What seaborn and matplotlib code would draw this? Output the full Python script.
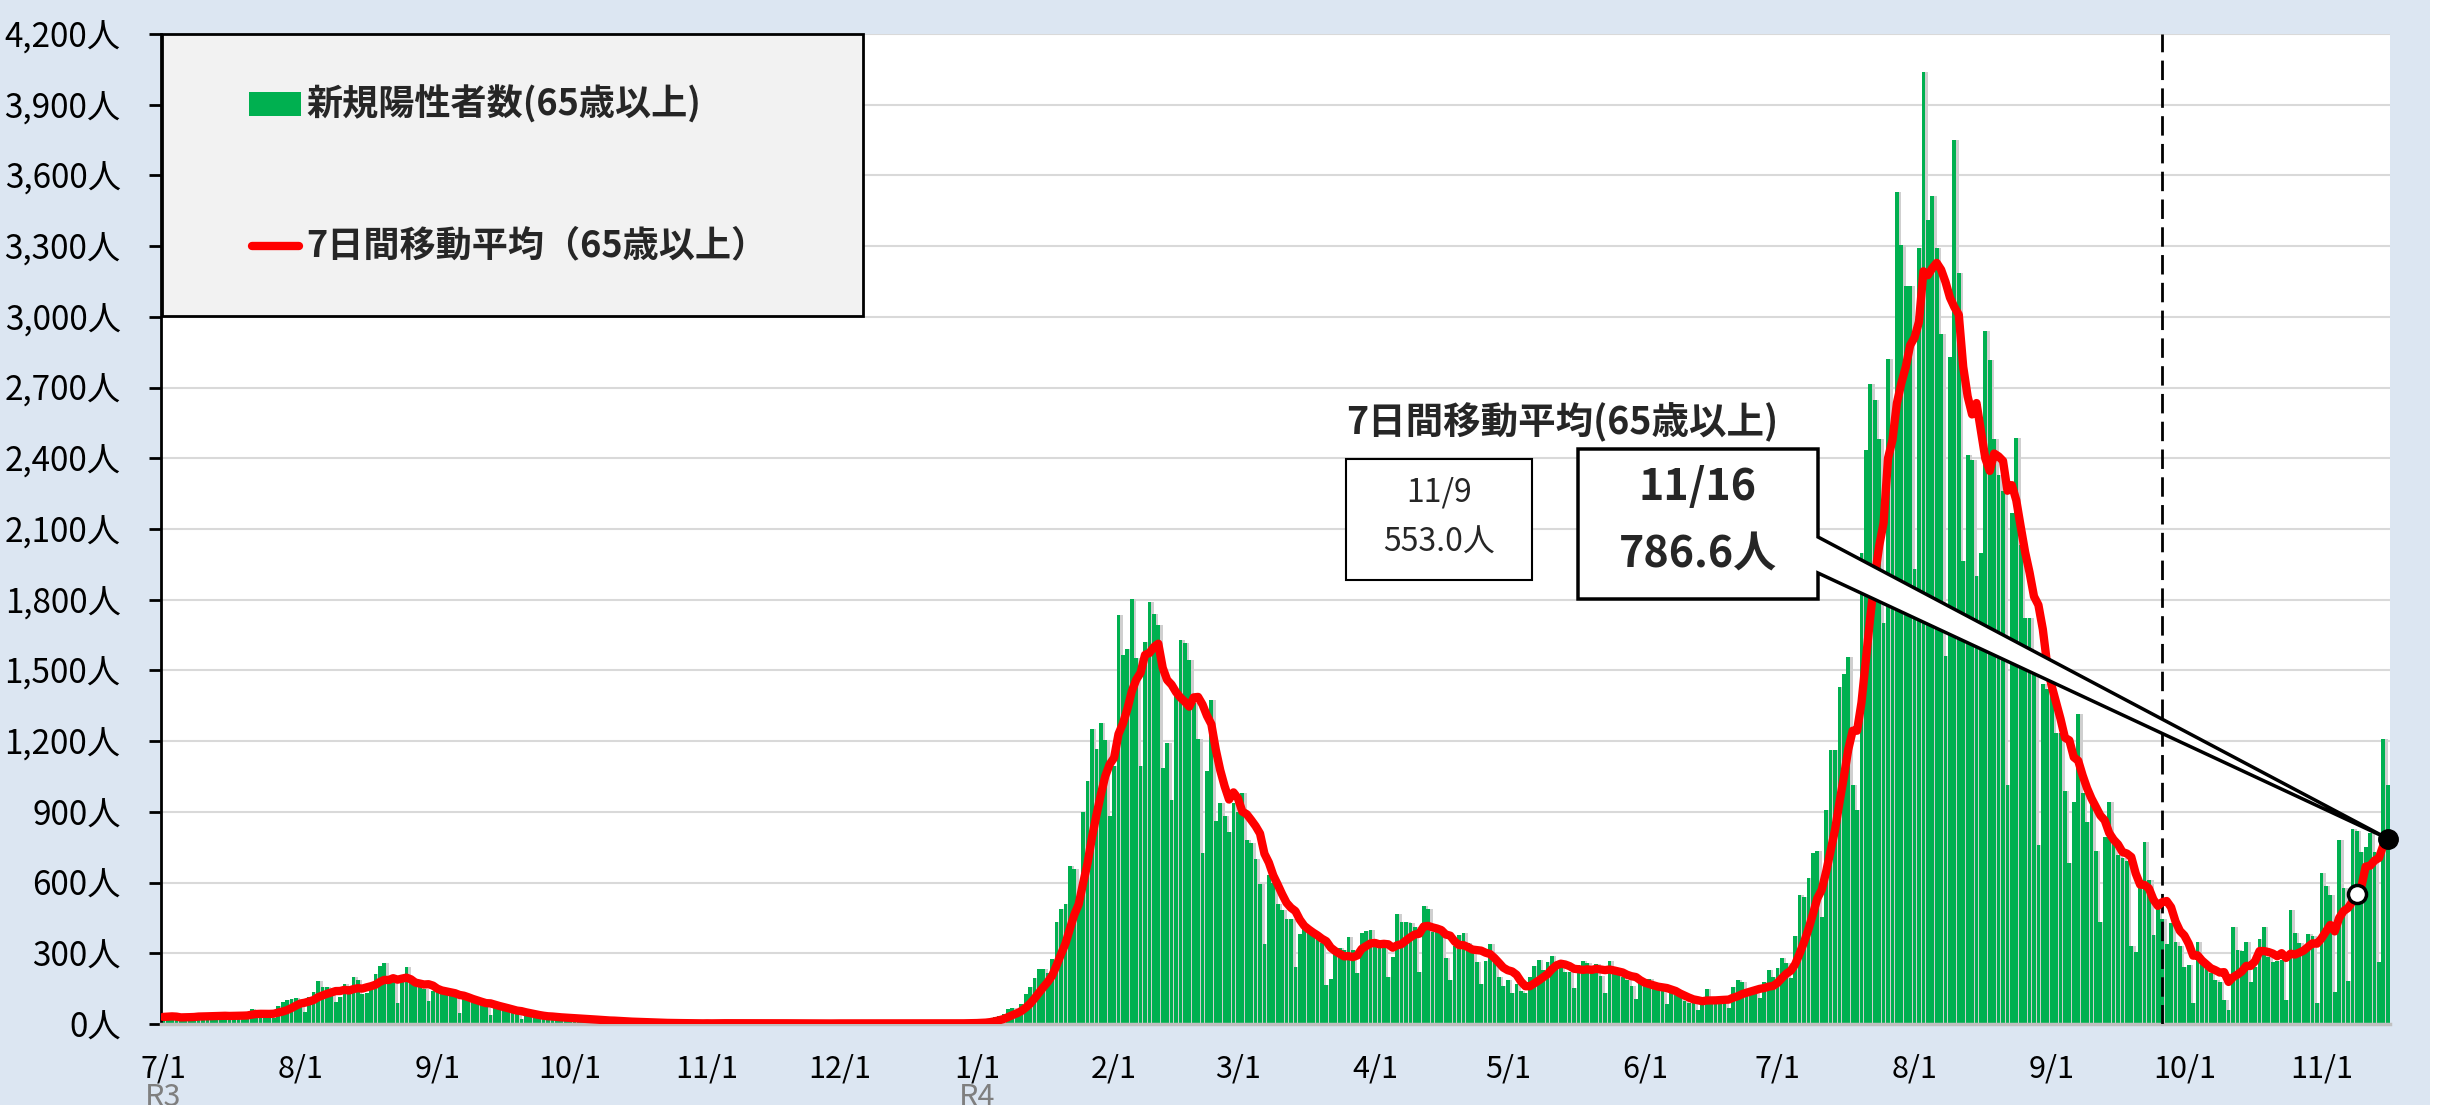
import numpy as np
import pandas as pd
import seaborn as sns
import matplotlib
matplotlib.use("Agg")
import matplotlib.pyplot as plt
import matplotlib.transforms as mtransforms
from matplotlib.patches import Rectangle, Polygon
from matplotlib.lines import Line2D

# daily new positives aged 65+ (one list per month)
jul21 = [30, 32, 35, 28, 15, 30, 33, 35, 45, 40, 30, 18, 35, 38, 38, 40, 42, 35, 20, 40, 62,
         58, 45, 40, 35, 25, 75, 92, 101, 105, 110]
aug21 = [100, 49, 113, 134, 183, 158, 158, 140, 92, 115, 169, 162, 200, 186, 127, 130, 148, 214,
         246, 259, 183, 180, 87, 180, 242, 197, 162, 155, 150, 96, 138]
sep21 = [150, 145, 135, 130, 120, 45, 115, 105, 95, 92, 88, 80, 38, 75, 68, 62, 58, 52, 45, 22,
         42, 40, 32, 35, 30, 28, 15, 30, 28, 25]
oct21 = [25, 22, 20, 10, 20, 18, 16, 15, 13, 12, 6, 12, 10, 9, 8, 8, 6, 3, 6, 5, 5, 4, 4, 3, 2,
         4, 3, 3, 2, 3, 2]
nov21 = [4, 2, 5, 3, 4, 3, 3, 1, 4, 3, 5, 3, 4, 2, 1, 3, 4, 3, 4, 2, 3, 2, 1, 3, 2, 4, 3, 2, 1, 3]
dec21 = [3, 2, 3, 2, 2, 1, 2, 3, 2, 3, 2, 2, 1, 3, 2, 3, 2, 2, 3, 1, 2, 3, 3, 2, 4, 3, 1, 3, 4,
         5, 4]
jan22 = [8, 10, 7, 18, 28, 35, 42, 63, 70, 60, 85, 127, 155, 197, 233, 235, 215, 275, 433, 486,
         508, 670, 656, 529, 898, 1029, 1251, 1166, 1279, 1206, 881]
feb22 = [1093, 1734, 1565, 1593, 1805, 1551, 1093, 1621, 1791, 1741, 1692, 1086, 1194, 952,
         1403, 1628, 1617, 1544, 1361, 1208, 726, 1072, 1375, 860, 938, 881, 814, 938]
mar22 = [898, 980, 780, 768, 700, 592, 338, 634, 599, 508, 484, 444, 444, 240, 380, 416, 402,
         390, 360, 345, 165, 190, 314, 321, 314, 368, 314, 215, 387, 396, 399]
apr22 = [328, 328, 328, 201, 286, 467, 434, 434, 427, 410, 222, 501, 486, 390, 400, 380, 279,
         187, 331, 378, 387, 342, 307, 264, 170, 269, 339, 271, 201, 161]
may22 = [187, 133, 170, 140, 130, 200, 246, 271, 229, 264, 288, 243, 250, 222, 222, 151, 250,
         269, 260, 232, 255, 204, 130, 268, 243, 229, 201, 187, 161, 105, 173]
jun22 = [170, 190, 160, 150, 140, 85, 130, 125, 115, 99, 90, 88, 59, 100, 147, 116, 102, 99, 95,
         66, 158, 187, 180, 144, 137, 130, 109, 180, 229, 200]
jul22 = [236, 279, 260, 197, 372, 546, 538, 618, 725, 732, 452, 907, 1161, 1161, 1429, 1483,
         1555, 1014, 907, 2000, 2434, 2715, 2648, 2482, 1700, 2822, 2540, 3528, 3305, 3131, 3131]
aug22 = [1930, 3291, 4037, 3412, 3511, 3291, 2929, 1563, 2831, 3752, 3185, 1965, 2413, 2394,
         1900, 2000, 2938, 2815, 2482, 2327, 2260, 1014, 2166, 2488, 2032, 1724, 1724, 1550, 760,
         1443, 1420]
sep22 = [1417, 1236, 1236, 990, 682, 943, 1315, 981, 858, 929, 735, 434, 795, 943, 781, 717, 703,
         690, 331, 307, 611, 771, 611, 378, 498, 444, 339, 427, 349, 330]
oct22 = [243, 250, 91, 349, 271, 236, 215, 187, 180, 102, 59, 410, 314, 311, 349, 180, 243, 359,
         410, 286, 265, 269, 272, 102, 484, 385, 342, 328, 382, 373, 91]
nov22 = [639, 584, 546, 135, 780, 577, 184, 829, 820, 731, 752, 809, 728, 264, 1208, 1014]

start_date = "2021-07-01"
end_date = "2022-11-16"
change_date = "2022-09-26"       # dashed line
era_dates = ["2021-07-01", "2022-01-01"]
era_names = ["R3", "R4"]
y_ticks = list(range(0, 4201, 300))

bar_label = "新規陽性者数(65歳以上)"
line_label = "7日間移動平均（65歳以上）"
note_title = "7日間移動平均(65歳以上)"

GREEN = "#00b050"
RED = "#ff0000"

W, H = 2440, 1105


def fx(x):
    return x / W


def fy(y):
    return 1 - y / H


dates = pd.date_range(start_date, end_date, freq="D")
cases = jul21 + aug21 + sep21 + oct21 + nov21 + dec21 + jan22 + feb22 + mar22 + apr22 + \
    may22 + jun22 + jul22 + aug22 + sep22 + oct22 + nov22
df = pd.DataFrame({"date": dates, "day": np.arange(len(dates)), "cases": cases})
df["ma7"] = df["cases"].rolling(7, min_periods=1).mean()
df["shadow_x"] = df["day"] + 0.6

sns.set_theme(style="white")
plt.rcParams["font.family"] = ["Noto Sans CJK JP", "DejaVu Sans"]

fig = plt.figure(figsize=(W / 100, H / 100), dpi=100)
fig.patch.set_facecolor("white")
fig.add_artist(Rectangle((0, 0), fx(2430), 1, transform=fig.transFigure,
                         facecolor="#dce6f2", edgecolor="none", zorder=-10))

ax = fig.add_axes([fx(161), fy(1024), (2390 - 161) / W, (1024 - 34) / H])
ax.set_facecolor("white")

# bar shadow, then bars
sns.barplot(data=df, x="shadow_x", y="cases", native_scale=True, color="#cfcfcf",
            saturation=1, width=0.85, errorbar=None, linewidth=0, ax=ax, zorder=1)
sns.barplot(data=df, x="day", y="cases", native_scale=True, color=GREEN,
            saturation=1, width=0.85, errorbar=None, linewidth=0, ax=ax, zorder=2)
sns.lineplot(data=df, x="day", y="ma7", color=RED, linewidth=6, ax=ax, zorder=4,
             solid_capstyle="round")

change_day = df.loc[df["date"] == change_date, "day"].iloc[0]
ax.axvline(change_day, color="black", lw=2, dashes=(7, 3), zorder=3)

ax.set_xlim(-0.5, len(df) - 0.5)
ax.set_ylim(0, 4200)
ax.set_xlabel("")
ax.set_ylabel("")

month_starts = df[df["date"].dt.day == 1]
ax.set_xticks(month_starts["day"])
ax.set_xticklabels([f"{d.month}/{d.day}" for d in month_starts["date"]])
ax.set_yticks(y_ticks)
ax.set_yticklabels([f"{v:,}人" for v in y_ticks])
ax.tick_params(axis="x", length=0, pad=21, labelsize=22, labelcolor="black")
ax.tick_params(axis="y", length=9, width=2, direction="out", pad=20, labelsize=24,
               labelcolor="black", color="black", left=True)

ax.yaxis.grid(True, color="#d9d9d9", lw=1.5)
ax.xaxis.grid(False)
ax.set_axisbelow(True)
for s in ["top", "right"]:
    ax.spines[s].set_visible(False)
ax.spines["left"].set_color("black")
ax.spines["left"].set_linewidth(2)
ax.spines["bottom"].set_color("#c0c0c0")
ax.spines["bottom"].set_linewidth(2.5)

# era labels under the first tick of each year
blend = mtransforms.blended_transform_factory(ax.transData, fig.transFigure)
for d, name in zip(era_dates, era_names):
    xd = df.loc[df["date"] == d, "day"].iloc[0]
    ax.text(xd, fy(1082), name, transform=blend, ha="center", va="top", fontsize=22,
            color="#7f7f7f", clip_on=False)

# legend box
tf = fig.transFigure
ax.add_patch(Rectangle((fx(162), fy(316)), fx(863) - fx(162), fy(34) - fy(316), transform=tf,
                       facecolor="#f2f2f2", edgecolor="black", lw=2, zorder=7, clip_on=False))
ax.add_patch(Rectangle((fx(249), fy(116)), fx(301) - fx(249), fy(92) - fy(116), transform=tf,
                       facecolor=GREEN, edgecolor="none", zorder=8, clip_on=False))
ax.add_line(Line2D([fx(252), fx(299)], [fy(246), fy(246)], transform=tf, color=RED, lw=6,
                   solid_capstyle="round", zorder=8))
ax.text(fx(306), fy(104), bar_label, transform=tf, fontsize=26, fontweight="bold",
        ha="left", va="center", zorder=9)
ax.text(fx(306), fy(246), line_label, transform=tf, fontsize=26, fontweight="bold",
        ha="left", va="center", zorder=9)

# latest value callouts
last = df.iloc[-1]
prev = df.iloc[-8]

ax.text(fx(1346), fy(422), note_title, transform=tf, fontsize=27, fontweight="bold",
        ha="left", va="center", zorder=9)

ax.add_patch(Rectangle((fx(1346), fy(580)), fx(1532) - fx(1346), fy(459) - fy(580), transform=tf,
                       facecolor="white", edgecolor="black", lw=1.5, zorder=7, clip_on=False))
ax.text(fx(1439), fy(492), f"{prev['date'].month}/{prev['date'].day}", transform=tf,
        fontsize=23, ha="center", va="center", zorder=9)
ax.text(fx(1439), fy(543), f"{prev['ma7']:.1f}人", transform=tf,
        fontsize=23, ha="center", va="center", zorder=9)

tip = tf.inverted().transform(ax.transData.transform((last["day"], last["ma7"])))
pts = [(fx(1578), fy(449)), (fx(1818), fy(449)), (fx(1818), fy(537)), tuple(tip),
       (fx(1818), fy(573)), (fx(1818), fy(599)), (fx(1578), fy(599))]
ax.add_patch(Polygon(pts, closed=True, transform=tf, facecolor="white", edgecolor="black",
                     lw=2.5, joinstyle="miter", zorder=8, clip_on=False))
ax.text(fx(1698), fy(487), f"{last['date'].month}/{last['date'].day}", transform=tf,
        fontsize=31, fontweight="bold", ha="center", va="center", zorder=9)
ax.text(fx(1698), fy(555), f"{last['ma7']:.1f}人", transform=tf,
        fontsize=31, fontweight="bold", ha="center", va="center", zorder=9)

ax.plot(prev["day"], prev["ma7"], "o", ms=13, mfc="white", mec="black", mew=2.5, zorder=6)
ax.plot(last["day"], last["ma7"], "o", ms=14, color="black", zorder=10, clip_on=False)

fig.savefig("out.png", dpi=100, facecolor=fig.get_facecolor())
